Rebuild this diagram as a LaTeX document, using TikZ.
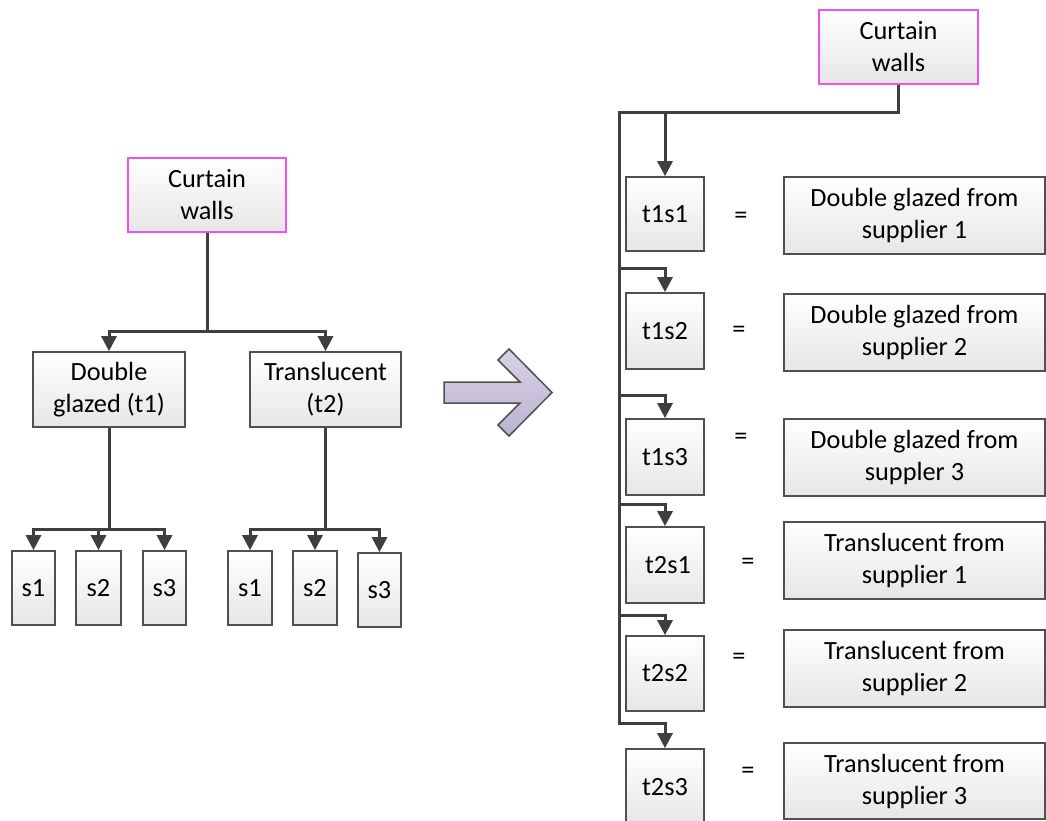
\documentclass[tikz,border=0pt]{standalone}
\usepackage{fontspec}
\setmainfont{Carlito}
\usetikzlibrary{arrows.meta,calc}
\definecolor{lnc}{HTML}{3F3F3F}
\definecolor{bdc}{HTML}{505050}
\definecolor{mag}{HTML}{F050F0}
\definecolor{lavT}{HTML}{D8D2E6}
\definecolor{lavB}{HTML}{BCB2D2}
\definecolor{boxB}{HTML}{E6E6E6}
\tikzset{
 box/.style={draw=bdc, line width=1.7pt, top color=white, bottom color=boxB, inner sep=0pt, align=center, font=\fontsize{26.3}{32}\selectfont},
 rootbox/.style={box, draw=mag},
 sbox/.style={box, minimum width=44pt, minimum height=74pt},
 tbox/.style={box, minimum width=78pt, minimum height=76pt},
 rbox/.style={box, minimum width=261pt, minimum height=77pt},
 conn/.style={draw=lnc, line width=3pt, line join=miter},
 arr/.style={conn, -{Triangle[width=15pt,length=15pt]}},
 darr/.style={conn, {Triangle[width=15pt,length=15pt]}-{Triangle[width=15pt,length=15pt]}},
 eq/.style={font=\fontsize{26.3}{32}\selectfont, inner sep=0pt},
}
\begin{document}
\begin{tikzpicture}[x=1pt,y=-1pt]
\useasboundingbox (0,0) rectangle (1046,820);
\clip (0,0) rectangle (1046,820);
% ---------- left tree ----------
\node[rootbox, minimum width=158pt, minimum height=74pt] (cw1) at (207,195) {Curtain\\walls};
\node[box, minimum width=152pt, minimum height=75pt] (dg) at (109,389.5) {Double\\glazed (t1)};
\node[box, minimum width=151pt, minimum height=75pt] (tr) at (325.5,389.5) {Translucent\\(t2)};
\node[sbox, minimum width=43pt] (s1a) at (33.5,588) {s1};
\node[sbox, minimum width=45pt] (s2a) at (98.5,588) {s2};
\node[sbox, minimum width=43pt] (s3a) at (164.5,588) {s3};
\node[sbox] (s1b) at (250,588) {s1};
\node[sbox] (s2b) at (315,588) {s2};
\node[sbox, minimum width=43pt] (s3b) at (379.5,590) {s3};
\coordinate (j1) at (207,331);
\coordinate (j2) at (109,529);
\coordinate (j3) at (325.5,529);
\draw[conn] (cw1.south) -- (j1);
\draw[darr] (dg.north) |- (j1) -| (tr.north);
\draw[conn] (dg.south) -- (j2);
\draw[darr] (s1a.north) |- (j2) -| (s3a.north);
\draw[arr] (j2 -| s2a.north) -- (s2a.north);
\draw[conn] (tr.south) -- (j3);
\draw[darr] (s1b.north) |- (j3) -| (s3b.north);
\draw[arr] (j3 -| s2b.north) -- (s2b.north);
% ---------- big arrow ----------
\path[draw=bdc, line width=1.5pt, top color=lavT, bottom color=lavB, line join=miter]
  (444,382) -- (520,382) -- (498,360) -- (509,349) -- (552,392.5) -- (509,436) -- (498,425) -- (520,403) -- (444,403) -- cycle;
% ---------- right list ----------
\node[rootbox, minimum width=159pt, minimum height=74pt] (cw2) at (898.5,47) {Curtain\\walls};
\node[tbox, minimum height=74pt] (t1s1) at (665,214) {t1s1};
\node[tbox] (t1s2) at (665,331) {t1s2};
\node[tbox] (t1s3) at (665,457) {t1s3};
\node[tbox] (t2s1) at (665,565) {\hspace*{6pt}t2s1};
\node[tbox, minimum height=75pt] (t2s2) at (665,673.5) {t2s2};
\node[tbox] (t2s3) at (665,787) {t2s3};
\node[rbox] (r1) at (914.5,215.5) {Double glazed from\\supplier 1};
\node[rbox] (r2) at (914.5,332.5) {Double glazed from\\supplier 2};
\node[rbox] (r3) at (914.5,457.5) {Double glazed from\\suppler 3};
\node[rbox] (r4) at (914.5,560.5) {Translucent from\\supplier 1};
\node[rbox] (r5) at (914.5,668.5) {Translucent from\\supplier 2};
\node[rbox, minimum height=76pt] (r6) at (914.5,781) {Translucent from\\supplier 3};
\node[eq] (e1) at (741,218) {=};
\node[eq] (e2) at (739,332) {=};
\node[eq] (e3) at (741,439) {=};
\node[eq] (e4) at (748,564) {=};
\node[eq] (e5) at (739,659) {=};
\node[eq] (e6) at (748,773) {=};
\coordinate (jt) at (619,112);
\coordinate (b2) at (619,268);
\coordinate (b3) at (619,395);
\coordinate (b4) at (619,504);
\coordinate (b5) at (619,615);
\coordinate (b6) at (619,723);
\draw[arr] (cw2.south) |- (jt) -- (b6) -| (t2s3.north);
\draw[arr] (jt -| t1s1.north) -- (t1s1.north);
\draw[arr] (b2) -| (t1s2.north);
\draw[arr] (b3) -| (t1s3.north);
\draw[arr] (b4) -| (t2s1.north);
\draw[arr] (b5) -| (t2s2.north);
\end{tikzpicture}
\end{document}
